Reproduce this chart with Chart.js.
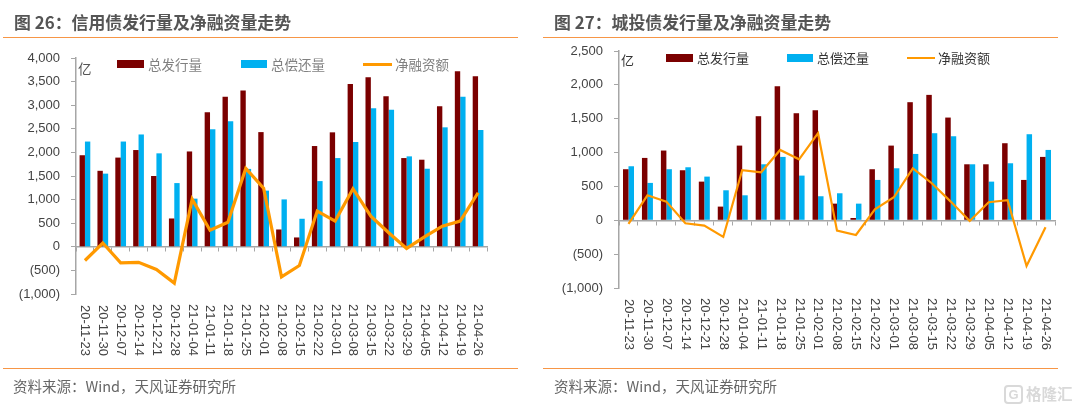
<!DOCTYPE html>
<html>
<head>
<meta charset="utf-8">
<script src="https://cdn.jsdelivr.net/npm/chart.js@4"></script>
<style>
  html, body { margin: 0; padding: 0; background: #fff; }
  #page { position: relative; width: 1080px; height: 410px; overflow: hidden; font-family: "Noto Sans CJK SC", sans-serif; }
  canvas { position: absolute; top: 0; }
  .title { position: absolute; top: 10px; font-size: 16.9px; line-height: 24px; font-weight: 700; color: #555; white-space: nowrap; }
  .rule { position: absolute; height: 1px; background: #f79646; }
  .source { position: absolute; top: 375px; font-size: 14.5px; line-height: 22px; color: #666; white-space: nowrap; }
  .lg { position: absolute; line-height: 18px; white-space: nowrap; }
  .sw { position: absolute; height: 8px; }
  .ln { position: absolute; }
  .mark { position: absolute; left: 1026px; top: 383px; font-size: 15.5px; line-height: 20px; color: #d9d9d9; font-weight: 700; white-space: nowrap; }
  .logo { position: absolute; left: 1004px; top: 385px; width: 15px; height: 15px; border: 2px solid #d9d9d9; border-radius: 4px; color: #d9d9d9; font: 700 13px/15px "Liberation Sans", sans-serif; text-align: center; }
</style>
</head>
<body>
<div id="page">
  <canvas id="creditChart" width="540" height="410" style="left:0"></canvas>
  <canvas id="lgfvChart" width="540" height="410" style="left:540px"></canvas>

  <div class="title" style="left:14px">图 26：信用债发行量及净融资量走势</div>
  <div class="title" style="left:554px">图 27：城投债发行量及净融资量走势</div>
  <div class="rule" style="left:3px;width:515px;top:37px"></div>
  <div class="rule" style="left:543px;width:515px;top:37px"></div>
  <div class="rule" style="left:3px;width:515px;top:368px"></div>
  <div class="rule" style="left:543px;width:515px;top:368px"></div>
  <div class="source" style="left:13px">资料来源：Wind，天风证券研究所</div>
  <div class="source" style="left:554px">资料来源：Wind，天风证券研究所</div>

  <div class="lg" style="left:78px;top:59px;color:#555;font-size:13.5px">亿</div>
  <div class="sw" style="left:117px;top:60px;width:27px;background:#7b0000"></div>
  <div class="lg" style="left:148px;top:55px;color:#808080;font-size:13.5px">总发行量</div>
  <div class="sw" style="left:241px;top:60px;width:26px;background:#00b0f0"></div>
  <div class="lg" style="left:271px;top:55px;color:#808080;font-size:13.5px">总偿还量</div>
  <div class="ln" style="left:363px;top:63px;width:29px;height:3px;background:#ff9900"></div>
  <div class="lg" style="left:395px;top:55px;color:#808080;font-size:13.5px">净融资额</div>

  <div class="lg" style="left:621px;top:51px;color:#333;font-size:13px">亿</div>
  <div class="sw" style="left:666px;top:54px;width:27px;background:#7b0000"></div>
  <div class="lg" style="left:697px;top:49px;color:#333;font-size:13px">总发行量</div>
  <div class="sw" style="left:787px;top:54px;width:26px;background:#00b0f0"></div>
  <div class="lg" style="left:817px;top:49px;color:#333;font-size:13px">总偿还量</div>
  <div class="ln" style="left:907px;top:57px;width:28px;height:2px;background:#ff9900"></div>
  <div class="lg" style="left:938px;top:49px;color:#333;font-size:13px">净融资额</div>

  <div class="logo">G</div>
  <div class="mark">格隆汇</div>
</div>

<script>
const dates = ['20-11-23','20-11-30','20-12-07','20-12-14','20-12-21','20-12-28','21-01-04','21-01-11','21-01-18','21-01-25','21-02-01','21-02-08','21-02-15','21-02-22','21-03-01','21-03-08','21-03-15','21-03-22','21-03-29','21-04-05','21-04-12','21-04-19','21-04-26'];

// 图 26 信用债
const creditIssue = [1940,1610,1890,2050,1500,600,2020,2850,3180,3310,2430,367,198,2135,2425,3450,3590,3188,1880,1845,2976,3718,3612];
const creditRepay = [2230,1550,2230,2380,1980,1350,1020,2490,2660,1650,1190,1004,594,1392,1880,2220,2934,2905,1916,1654,2531,3181,2474];
const creditNet = [-290,80,-340,-330,-480,-770,1010,350,520,1660,1240,-636,-396,756,544,1230,650,297,-35,212,438,544,1145];

// 图 27 城投债
const lgfvIssue = [754,921,1030,739,571,202,1103,1537,1980,1581,1625,246,34,754,1103,1744,1852,1517,827,827,1138,596,936];
const lgfvRepay = [798,552,754,783,645,443,369,827,936,660,355,399,246,596,768,980,1286,1241,827,571,842,1271,1039];
const lgfvNet = [-54,369,276,-44,-79,-246,739,709,1039,901,1286,-153,-217,163,340,768,547,276,-10,266,296,-675,-103];

const axisGray = '#a6a6a6';

// 括号表示负数，和原图一样
function fmtTick(v) {
    const s = Math.abs(v).toLocaleString('en-US');
    return v < 0 ? '(' + s + ')' : s;
}

function makeChart(id, issue, repay, net, cfg) {
    return new Chart(document.getElementById(id), {
        data: {
            labels: dates,
            datasets: [
                { type: 'line', label: '净融资额', data: net, borderColor: '#ff9900', borderWidth: cfg.lineWidth, pointRadius: 0, tension: 0, order: 0 },
                { type: 'bar', label: '总发行量', data: issue, backgroundColor: '#7b0000', categoryPercentage: cfg.catPct, barPercentage: 1, order: 1 },
                { type: 'bar', label: '总偿还量', data: repay, backgroundColor: '#00b0f0', categoryPercentage: cfg.catPct, barPercentage: 1, order: 1 }
            ]
        },
        options: {
            responsive: false,
            animation: false,
            devicePixelRatio: 1,
            layout: { padding: cfg.padding },
            plugins: { legend: { display: false }, tooltip: { enabled: false } },
            scales: {
                x: {
                    offset: true,
                    border: { display: false },
                    grid: { display: false },
                    ticks: {
                        // 文字从上往下读：-90 度时右对齐，所以 padding 要加上文字长度
                        minRotation: -90, maxRotation: -90, autoSkip: false, padding: cfg.labelGap,
                        color: '#444', font: { family: '"Liberation Sans", sans-serif', size: 13 }
                    },
                    afterFit: s => { s.height = 90; s.paddingLeft = 0; s.paddingRight = 0; }
                },
                // 第二条 x 轴只画 0 位置的轴线和刻度
                zero: {
                    type: 'category',
                    axis: 'x',
                    position: { y: 0 },
                    offset: true,
                    border: { color: axisGray, width: 1.5 },
                    grid: { offset: true, drawOnChartArea: false, color: axisGray, tickLength: 4 },
                    ticks: { autoSkip: false, maxRotation: 0, padding: 0, callback: () => '', font: { size: 1 } }
                },
                y: {
                    min: cfg.min,
                    max: cfg.max,
                    border: { color: axisGray, width: 1.5 },
                    grid: { drawOnChartArea: false, color: axisGray, tickLength: 5 },
                    ticks: {
                        stepSize: 500, padding: 11, callback: fmtTick,
                        color: '#444', font: { family: '"Liberation Sans", sans-serif', size: 13 }
                    },
                    afterFit: s => { s.width = cfg.axisLeft; }
                }
            }
        }
    });
}

makeChart('creditChart', creditIssue, creditRepay, creditNet, {
    min: -1000, max: 4000, lineWidth: 3.2, catPct: 0.6, axisLeft: 76, labelGap: 54,
    padding: { left: 0, top: 58, right: 53, bottom: 26 }
});

makeChart('lgfvChart', lgfvIssue, lgfvRepay, lgfvNet, {
    min: -1000, max: 2500, lineWidth: 2.2, catPct: 0.58, axisLeft: 79, labelGap: 54,
    padding: { left: 0, top: 51, right: 25, bottom: 32 }
});
</script>
</body>
</html>
